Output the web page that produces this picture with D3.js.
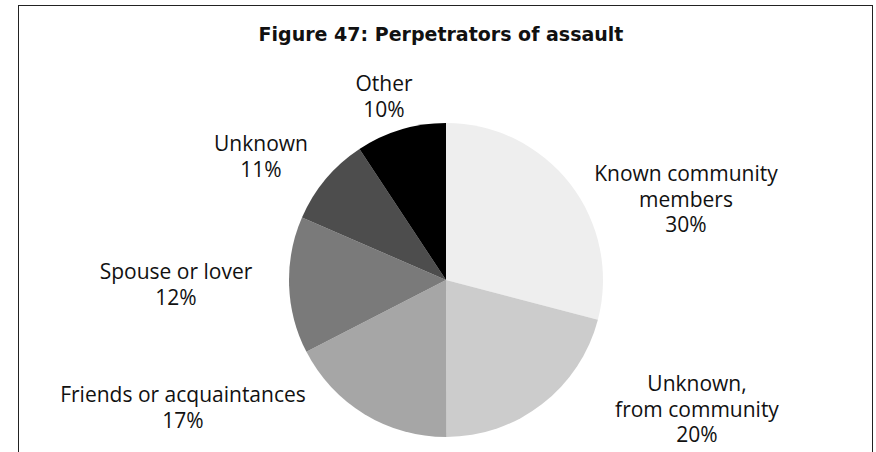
<!DOCTYPE html>
<html>
<head>
<meta charset="utf-8">
<script src="https://cdn.jsdelivr.net/npm/d3@7"></script>
<style>
  body { margin: 0; background: #fff; }
  svg { display: block; }
</style>
</head>
<body>
<svg id="chart" width="876" height="452"></svg>
<script>
// slice sizes as drawn, labels as printed
const categories = ["Known community members", "Unknown, from community", "Friends or acquaintances",
                    "Spouse or lover", "Unknown", "Other"];
const values = [29.1, 20.9, 17.5, 14.1, 9.2, 9.3];
const percentLabels = ["30%", "20%", "17%", "12%", "11%", "10%"];
const labelLines = [["Known community", "members"], ["Unknown,", "from community"], ["Friends or acquaintances"],
                    ["Spouse or lover"], ["Unknown"], ["Other"]];
const colors = ["#eeeeee", "#cccccc", "#a6a6a6", "#7a7a7a", "#4d4d4d", "#000000"];

const width = 876, height = 452;
const center = { x: 446, y: 280 };
const radius = 157;
// where each label block sits (center x, first baseline y)
const labelPos = [[686, 181], [697, 391], [183, 402], [176, 279], [261, 151], [384, 91]];
const lineH = 25.5;

const svg = d3.select("#chart");

svg.append("rect")
    .attr("x", 18.5).attr("y", 5.5)
    .attr("width", 854).attr("height", 500)
    .attr("fill", "none")
    .attr("stroke", "#222")
    .attr("stroke-width", 1);

svg.append("text")
    .attr("x", 441).attr("y", 41)
    .attr("text-anchor", "middle")
    .style("font-family", "DejaVu Sans")
    .style("font-weight", "bold")
    .style("font-size", "19px")
    .attr("fill", "#111")
    .text("Figure 47: Perpetrators of assault");

const pie = d3.pie().sort(null).value(d => d)(values);
const arc = d3.arc().innerRadius(0).outerRadius(radius);

svg.append("g")
    .attr("transform", "translate(" + center.x + "," + center.y + ")")
    .selectAll("path").data(pie)
    .enter()
    .append("path")
    .attr("d", arc)
    .attr("fill", (d, i) => colors[i]);

const labels = svg.append("g")
    .selectAll("text").data(categories)
    .enter()
    .append("text")
    .attr("text-anchor", "middle")
    .style("font-family", "Open Sans")
    .style("font-size", "21px")
    .attr("fill", "#111");

labels.selectAll("tspan")
    .data((d, i) => labelLines[i].concat([percentLabels[i]]).map(t => ({ t: t, i: i })))
    .enter()
    .append("tspan")
    .attr("x", d => labelPos[d.i][0])
    .attr("y", (d, j) => labelPos[d.i][1] + j * lineH)
    .text(d => d.t);
</script>
</body>
</html>
